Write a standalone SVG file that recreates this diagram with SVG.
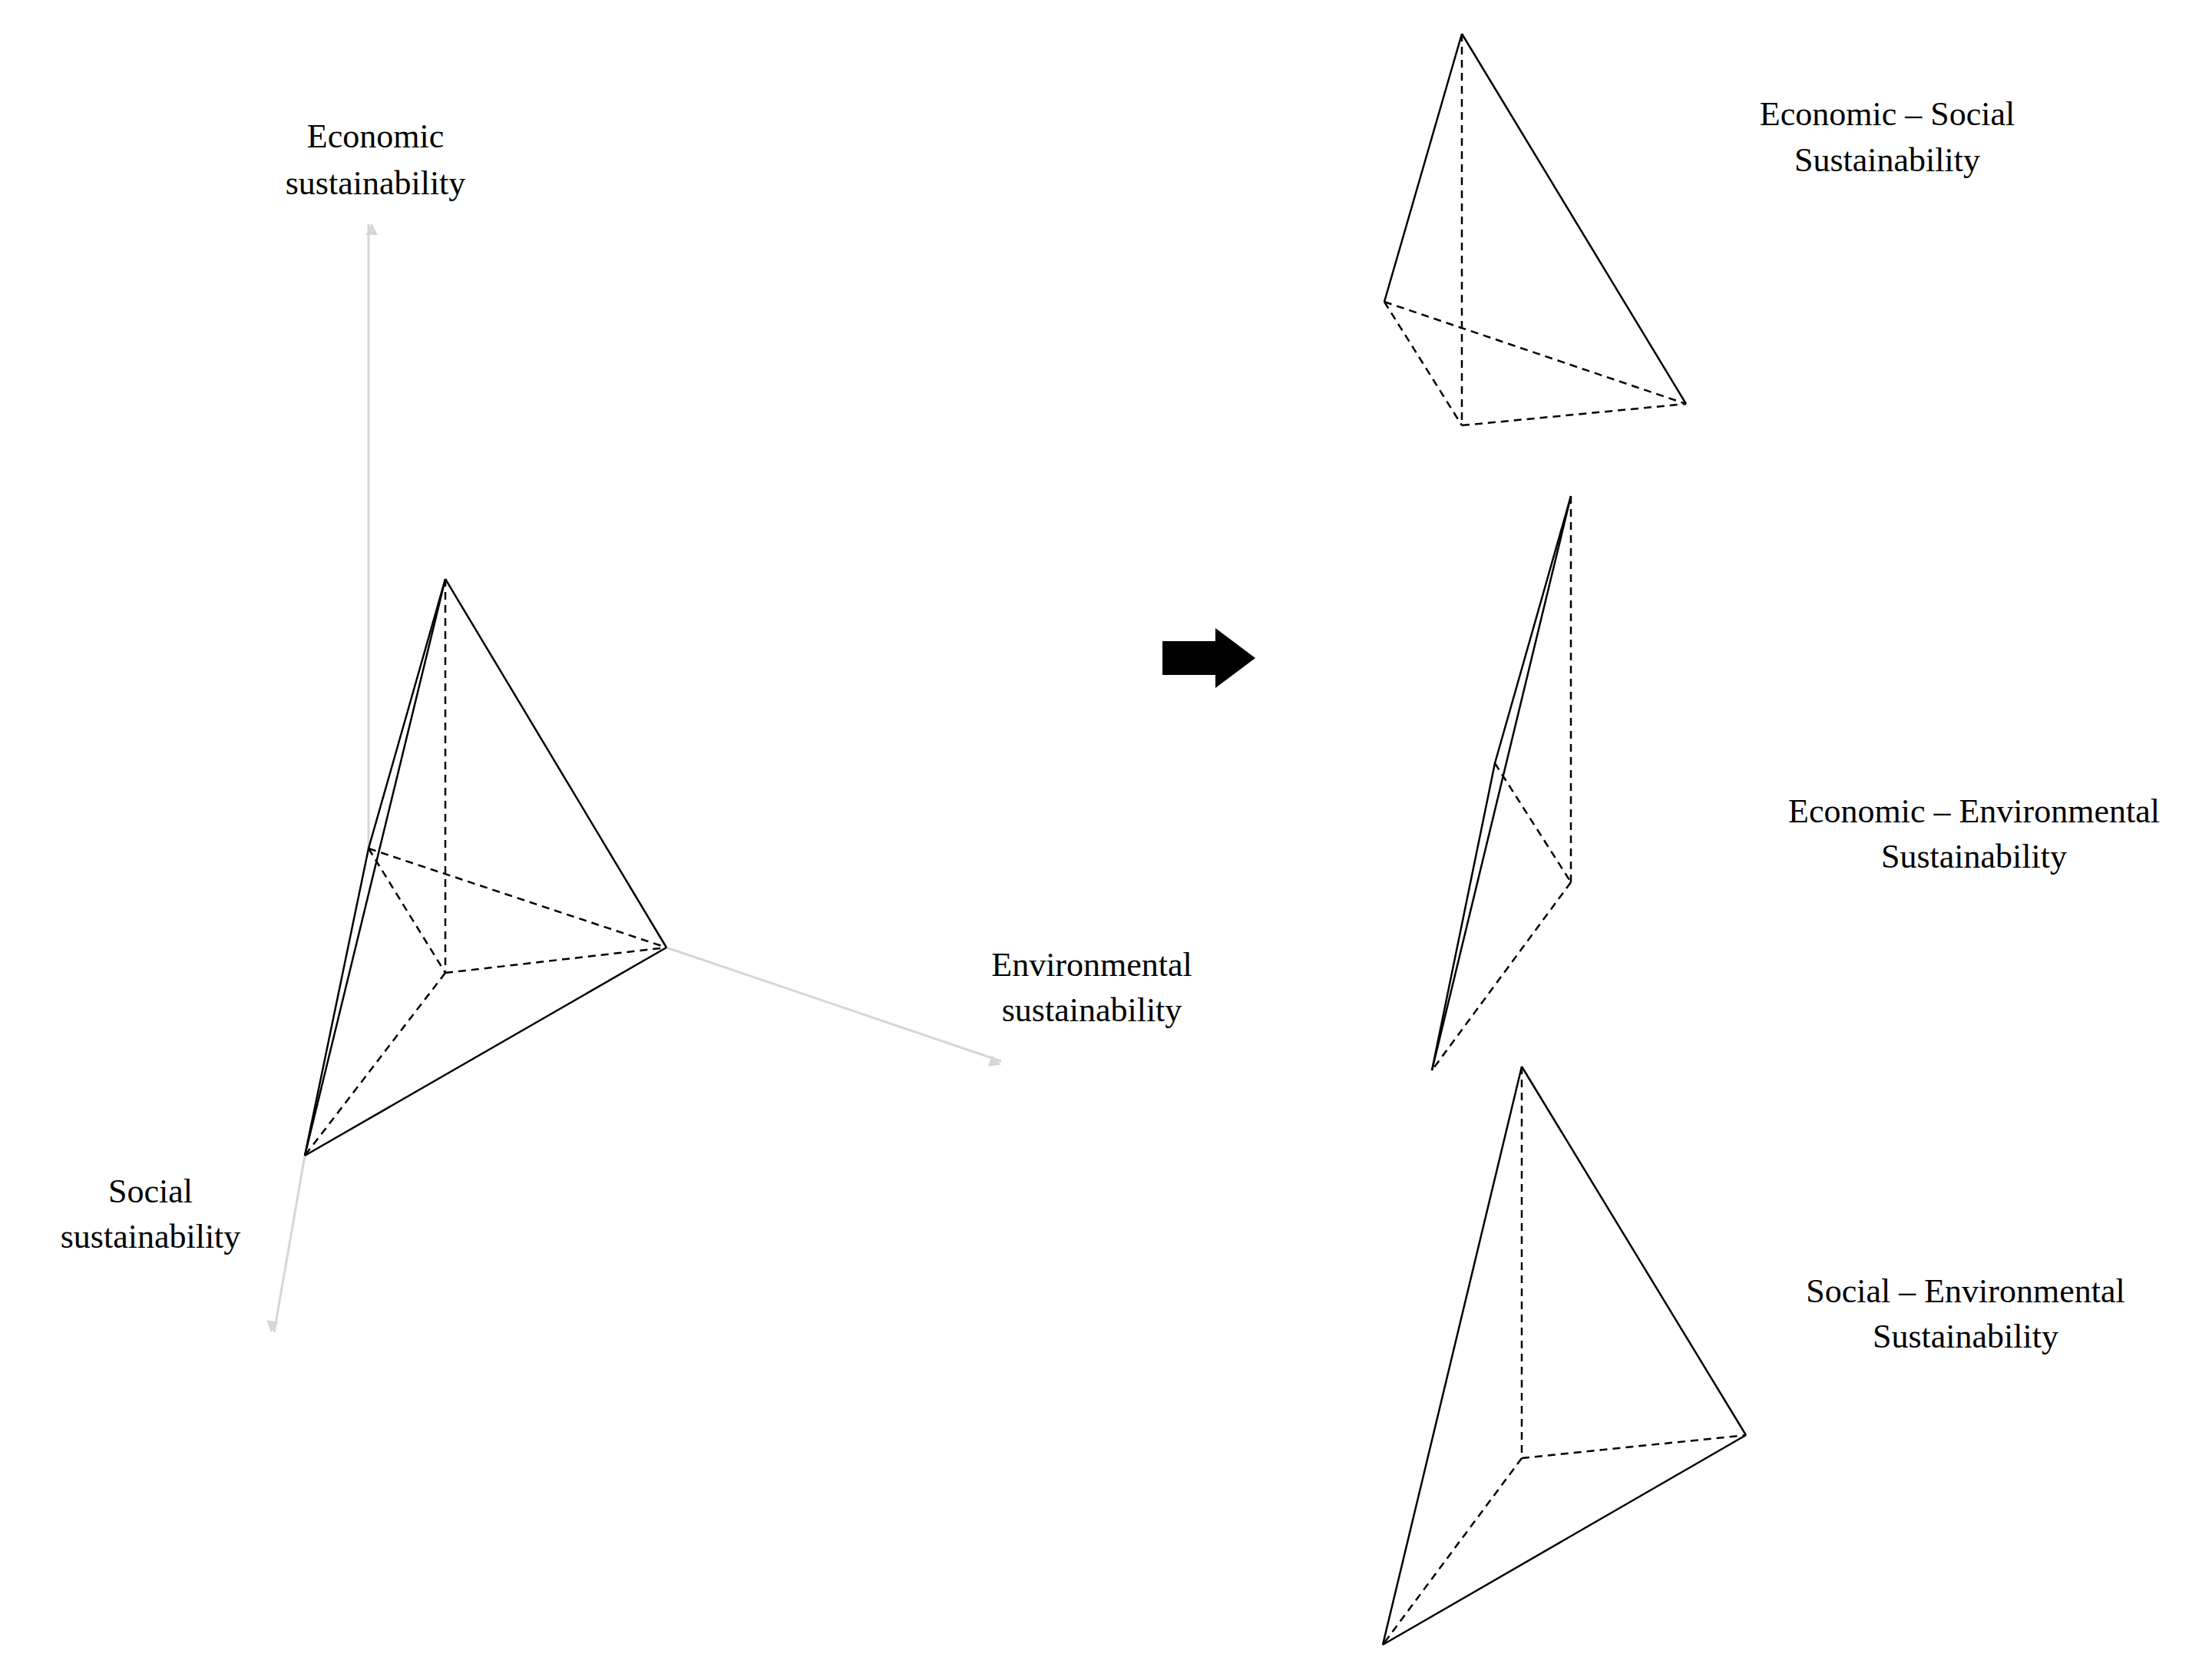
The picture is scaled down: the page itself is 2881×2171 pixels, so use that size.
<svg xmlns="http://www.w3.org/2000/svg" width="2881" height="2171" viewBox="0 0 2881 2171">
<style>
.s{stroke:#000;stroke-width:2.5;fill:none}
.d{stroke:#000;stroke-width:2.5;fill:none;stroke-dasharray:10 7}
.ax{stroke:#d6d6d6;stroke-width:3;fill:none;marker-end:url(#ah)}
text{font-family:"Liberation Serif",serif;font-size:44px;fill:#000;text-anchor:middle}
</style>
<defs>
<marker id="ah" viewBox="0 0 10 10" refX="9" refY="5" markerWidth="7" markerHeight="7" orient="auto" markerUnits="userSpaceOnUse" style="overflow:visible">
<path d="M0,0 L10,5 L0,10 z" fill="#d6d6d6" transform="scale(2.2) translate(-5,0)"/>
</marker>
</defs>
<rect width="2881" height="2171" fill="#fff"/>
<g id="connectors">
<line class="ax" x1="480" y1="1105" x2="480" y2="292"/>
<line class="ax" x1="868" y1="1234" x2="1304" y2="1382"/>
<line class="ax" x1="397" y1="1505" x2="357" y2="1735"/>
<path d="M1514,835 H1583 V818 L1635,857 L1583,896 V879 H1514 z" fill="#000"/>
</g>
<g id="tetra-main">
<line class="s" x1="580" y1="754" x2="397" y2="1505"/>
<polyline class="s" points="580,754 480,1105 397,1505"/>
<line class="s" x1="580" y1="754" x2="868" y2="1234"/>
<line class="s" x1="868" y1="1234" x2="397" y2="1505"/>
<line class="d" x1="580" y1="754" x2="580" y2="1267"/>
<line class="d" x1="480" y1="1105" x2="868" y2="1234"/>
<line class="d" x1="480" y1="1105" x2="580" y2="1267"/>
<line class="d" x1="580" y1="1267" x2="868" y2="1234"/>
<line class="d" x1="580" y1="1267" x2="397" y2="1505"/>
</g>
<g id="tetra-econ-social">
<line class="s" x1="1904" y1="44" x2="1803" y2="393"/>
<line class="s" x1="1904" y1="44" x2="2196" y2="526"/>
<line class="d" x1="1904" y1="44" x2="1904" y2="554"/>
<line class="d" x1="1803" y1="393" x2="1904" y2="554"/>
<line class="d" x1="1803" y1="393" x2="2196" y2="526"/>
<line class="d" x1="1904" y1="554" x2="2196" y2="526"/>
</g>
<g id="tetra-econ-env">
<line class="s" x1="2046" y1="646" x2="1865" y2="1394"/>
<polyline class="s" points="2046,646 1947,994 1865,1394"/>
<line class="d" x1="2046" y1="646" x2="2046" y2="1149"/>
<line class="d" x1="1947" y1="994" x2="2046" y2="1149"/>
<line class="d" x1="2046" y1="1149" x2="1865" y2="1394"/>
</g>
<g id="tetra-social-env">
<line class="s" x1="1982" y1="1389" x2="1801" y2="2142"/>
<line class="s" x1="1982" y1="1389" x2="2274" y2="1869"/>
<line class="s" x1="2274" y1="1869" x2="1801" y2="2142"/>
<line class="d" x1="1982" y1="1389" x2="1982" y2="1899"/>
<line class="d" x1="1982" y1="1899" x2="2274" y2="1869"/>
<line class="d" x1="1982" y1="1899" x2="1801" y2="2142"/>
</g>
<g id="labels">
<text x="489" y="192">Economic</text><text x="489" y="253">sustainability</text>
<text x="1422" y="1271">Environmental</text><text x="1422" y="1330">sustainability</text>
<text x="196" y="1566">Social</text><text x="196" y="1625">sustainability</text>
<text x="2458" y="163">Economic  – Social</text><text x="2458" y="223">Sustainability</text>
<text x="2571" y="1071">Economic  – Environmental</text><text x="2571" y="1130">Sustainability</text>
<text x="2560" y="1696">Social – Environmental</text><text x="2560" y="1755">Sustainability</text>
</g>
</svg>
